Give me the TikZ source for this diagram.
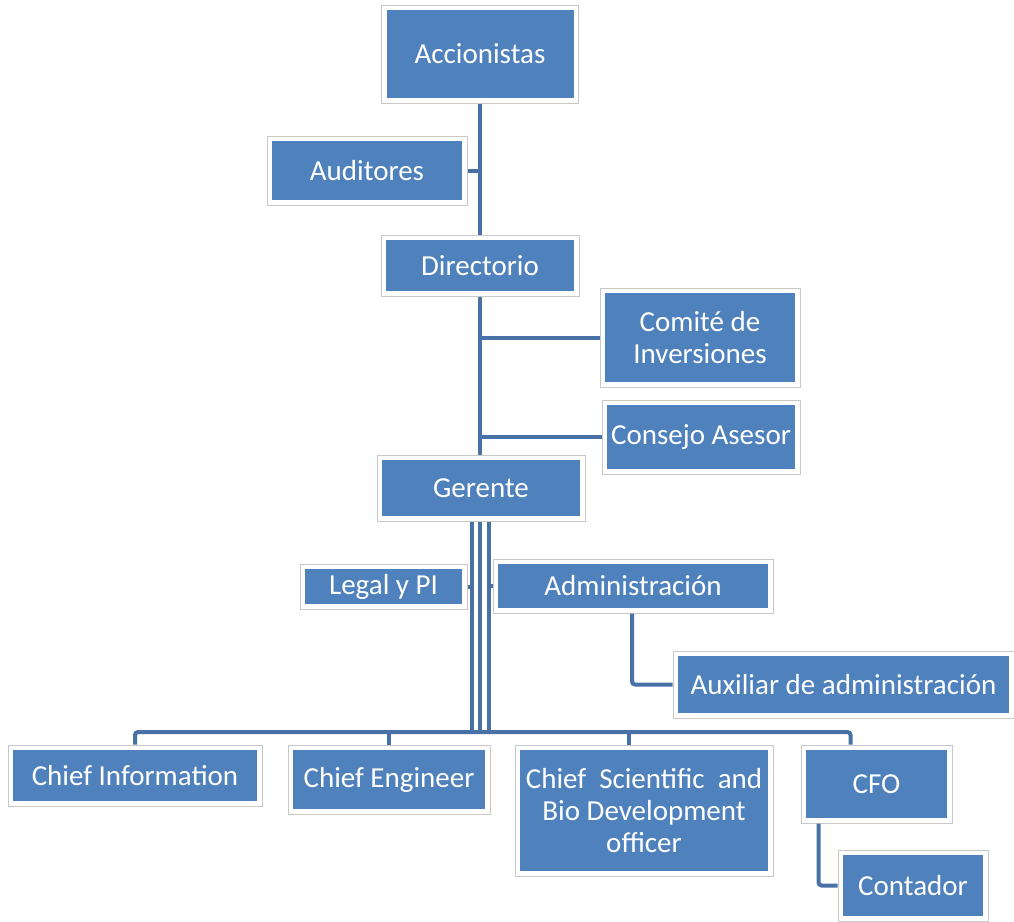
\documentclass[tikz,border=0pt]{standalone}
\usepackage{fontspec}
\setmainfont{Carlito}
\usepackage{tikz}
\usetikzlibrary{positioning, calc}

\definecolor{boxblue}{RGB}{79,129,189}
\definecolor{lineblue}{RGB}{72,113,166}
\definecolor{rimgray}{RGB}{200,200,200}

\begin{document}
\begin{tikzpicture}[x=1pt, y=-1pt,
  box/.style={draw=rimgray, line width=1pt, fill=white, text=white, align=center,
    inner sep=0pt, font=\fontsize{29}{32}\selectfont,
    path picture={\fill[boxblue] ([shift={(5pt,5pt)}]path picture bounding box.south west)
      rectangle ([shift={(-5pt,-5pt)}]path picture bounding box.north east);}},
  link/.style={draw=lineblue, line width=4pt, rounded corners=3pt}]
\useasboundingbox (0,0) rectangle (1014,921);

\node[box, minimum width=197pt, minimum height=98pt] (acc) at (480, 54) {Accionistas};
\node[box, minimum width=200pt, minimum height=69pt] (aud) at (367, 170.5) {Auditores};
\node[box, minimum width=198pt, minimum height=61pt] (dir) at (480, 265.5) {Directorio};
\node[box, minimum width=200pt, minimum height=99pt] (com) at (700, 337.5) {Comité de\\Inversiones};
\node[box, minimum width=198pt, minimum height=74pt] (con) at (701, 437) {Consejo Asesor};
\node[box, minimum width=208pt, minimum height=66pt] (ger) at (481, 488) {Gerente};
\node[box, minimum width=167pt, minimum height=45pt] (leg) at (383.5, 586.5) {Legal y PI};
\node[box, minimum width=280pt, minimum height=54pt] (adm) at (633, 586) {Administración};
\node[box, minimum width=341pt, minimum height=67pt] (aux) at (843.5, 684.5) {Auxiliar de administración};
\node[box, minimum width=254pt, minimum height=61pt] (ci) at (135, 775.5) {Chief Information};
\node[box, minimum width=202pt, minimum height=69pt] (ce) at (389, 779.5) {Chief Engineer};
\node[box, minimum width=258pt, minimum height=131pt] (cs) at (644, 810.5) {Chief\ \ Scientific\ \ and\\Bio Development\\officer};
\node[box, minimum width=151pt, minimum height=78pt] (cfo) at (876.5, 784) {CFO};
\node[box, minimum width=150pt, minimum height=71pt] (cont) at (913, 885.5) {Contador};

\coordinate (bus) at (500, 732);
\coordinate (gl) at ([xshift=-9pt]ger.south);
\coordinate (gr) at ([xshift=8pt]ger.south);

\draw[link] (acc.south) -- (dir.north);
\draw[link] (aud.east) -- (aud.east -| acc.south);
\draw[link] (dir.south) -- (dir.south |- ger.north);
\draw[link] (com.west) -- (com.west -| dir.south);
\draw[link] (con.west) -- (con.west -| dir.south);

\foreach \dx in {-9,-1,8}
  \draw[link] ([xshift=\dx pt]ger.south) -- ([xshift=\dx pt]ger.south |- bus);
\draw[link] (leg.east) -- (leg.east -| gl);
\draw[link] (adm.west) -- (adm.west -| gr);

\draw[link] (ci.north) |- (bus) -| ([xshift=-26pt]cfo.north);
\draw[link] (ce.north) -- (ce.north |- bus);
\draw[link] ([xshift=-15pt]cs.north) -- ([xshift=-15pt]cs.north |- bus);

\draw[link] ([xshift=-1pt]adm.south) |- (aux.west);
\draw[link] ([xshift=-58pt]cfo.south) |- (cont.west);
\end{tikzpicture}
\end{document}
